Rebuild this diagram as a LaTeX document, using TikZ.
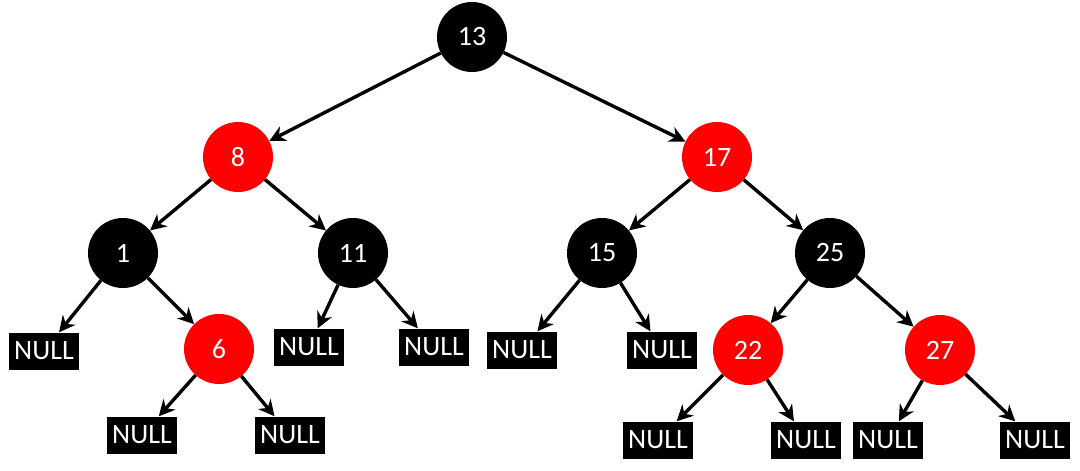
\documentclass[tikz,border=0pt]{standalone}
\usepackage{fontspec}
\setmainfont{Carlito}
\usetikzlibrary{arrows.meta}
\tikzset{
  every node/.style={font=\fontsize{28}{28}\selectfont, text=white},
  blk/.style={circle, fill=black, minimum size=70pt, inner sep=0pt},
  rd/.style={circle, fill=red, minimum size=70pt, inner sep=0pt},
  nul/.style={rectangle, fill=black, minimum width=70pt, minimum height=37pt, inner sep=0pt},
  edge/.style={draw=black, line width=3.4pt, -{Stealth[length=16pt,width=16pt]}}
}
\begin{document}
\begin{tikzpicture}[x=1pt,y=-1pt]
\useasboundingbox[fill=white] (0,0) rectangle (1080,471);
\node[blk] (n13) at (472,37) {13};
\node[rd]  (n8)  at (238,157) {8};
\node[rd]  (n17) at (717,157) {17};
\node[blk] (n1)  at (123,253) {1};
\node[blk] (n11) at (353,253) {11};
\node[blk] (n15) at (602,253) {15};
\node[blk] (n25) at (830,253) {25};
\node[nul] (a1) at (44,351) {NULL};
\node[rd]  (n6) at (219,349) {6};
\node[nul] (a2) at (309,347) {NULL};
\node[nul] (a3) at (434,347) {NULL};
\node[nul] (a4) at (522,350) {NULL};
\node[nul] (a5) at (662,350) {NULL};
\node[rd]  (n22) at (748,350) {22};
\node[rd]  (n27) at (940,350) {27};
\node[nul] (b1) at (142,435) {NULL};
\node[nul] (b2) at (290,435) {NULL};
\node[nul] (b3) at (658,440) {NULL};
\node[nul] (b4) at (806,440) {NULL};
\node[nul] (b5) at (888,440) {NULL};
\node[nul] (b6) at (1035,440) {NULL};
\draw[edge] (n13) -- (n8);
\draw[edge] (n13) -- (n17);
\draw[edge] (n8) -- (n1);
\draw[edge] (n8) -- (n11);
\draw[edge] (n17) -- (n15);
\draw[edge] (n17) -- (n25);
\draw[edge] (n1) -- (a1);
\draw[edge] (n1) -- (n6);
\draw[edge] (n11) -- (a2);
\draw[edge] (n11) -- (a3);
\draw[edge] (n15) -- (a4);
\draw[edge] (n15) -- (a5);
\draw[edge] (n25) -- (n22);
\draw[edge] (n25) -- (n27);
\draw[edge] (n6) -- (b1);
\draw[edge] (n6) -- (b2);
\draw[edge] (n22) -- (b3);
\draw[edge] (n22) -- (b4);
\draw[edge] (n27) -- (b5);
\draw[edge] (n27) -- (b6);
\end{tikzpicture}
\end{document}
